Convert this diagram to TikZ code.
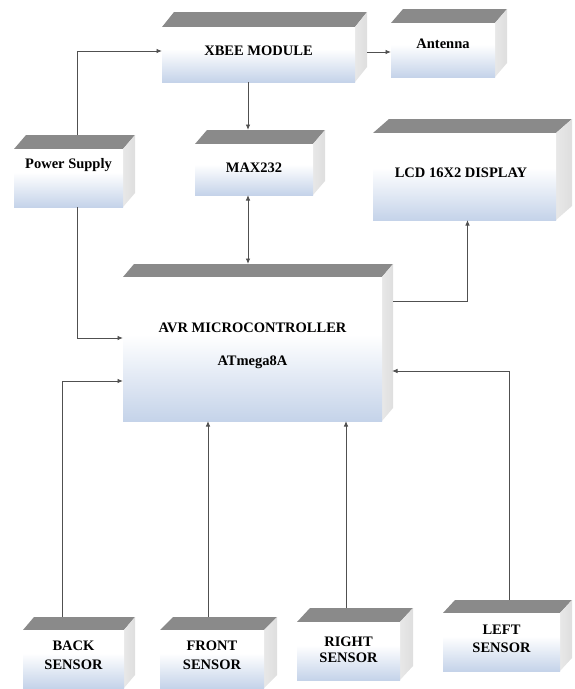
\documentclass[tikz,border=0pt]{standalone}
\usepackage{fontspec}
\setmainfont{Liberation Serif}
\usetikzlibrary{arrows.meta,calc}
\definecolor{faceblue}{RGB}{182,200,228}
\definecolor{topgray}{RGB}{138,138,138}
\definecolor{sidegray}{RGB}{222,222,222}
\definecolor{linegray}{RGB}{80,80,80}
\pgfdeclareverticalshading{boxface}{100bp}{color(0bp)=(faceblue); color(25bp)=(faceblue!80!white); color(55bp)=(white); color(100bp)=(white)}
\tikzset{
  front/.style={rectangle, inner sep=0pt, outer sep=0pt, shading=boxface},
  lbl/.style={inner sep=0pt, align=center, font=\fontsize{14.5}{17}\selectfont\bfseries},
  topface/.style={fill=topgray},
  sideface/.style={left color=sidegray!70!white, right color=sidegray},
  conn/.style={draw=linegray, line width=0.9pt, -{Latex[length=5.5pt,width=4.5pt]}},
  conn2/.style={draw=linegray, line width=0.9pt, {Latex[length=5.5pt,width=4.5pt]}-{Latex[length=5.5pt,width=4.5pt]}}
}
% #1 name, #2 x1, #3 y1, #4 x2, #5 y2, #6 depth x, #7 depth y
\newcommand\cubbox[7]{%
  \fill[topface] (#2,#3) -- (#2+#6,#3-#7) -- (#4+#6,#3-#7) -- (#4,#3) -- cycle;
  \shade[sideface] (#4,#3) -- (#4+#6,#3-#7) -- (#4+#6,#5-#7) -- (#4,#5) -- cycle;
  \node[front, minimum width={#4-#2}, minimum height={#5-#3}] (#1) at ({(#2+#4)/2},{(#3+#5)/2}) {};
}
\begin{document}
\begin{tikzpicture}[x=1pt,y=-1pt]
\useasboundingbox (0,0) rectangle (574,689);
% boxes
\cubbox{xbee}{162}{27}{355}{82}{12}{15}
\cubbox{ant}{391}{23}{495}{77}{12}{14}
\cubbox{ps}{14}{149}{123}{207}{12}{14}
\cubbox{max}{195}{144}{313}{195}{12}{14}
\cubbox{lcd}{373}{133}{556}{220}{16}{14}
\cubbox{avr}{123}{277}{382}{421}{11}{13}
\cubbox{back}{23}{630}{124}{688}{11}{13}
\cubbox{fro}{160}{630}{264}{688}{13}{13}
\cubbox{rig}{297}{622}{400}{680}{13}{14}
\cubbox{lef}{443}{613}{560}{671}{12}{13}
% labels
\node[lbl, anchor=base] (xbee-t) at (258.5,55) {XBEE MODULE};
\node[lbl, anchor=base] (ant-t) at (443,48) {Antenna};
\node[lbl, anchor=base] (ps-t) at (68.5,168) {Power Supply};
\node[lbl, anchor=base] (max-t) at (254,172) {MAX232};
\node[lbl, anchor=base] (lcd-t) at (461,177) {LCD 16X2 DISPLAY};
\node[lbl, anchor=base] (avr-t1) at (252.5,332) {AVR MICROCONTROLLER};
\node[lbl, anchor=base] (avr-t2) at (252.5,365) {ATmega8A};
\node[lbl] (back-t) at (73.5,655) {BACK\\[2pt]SENSOR};
\node[lbl] (fro-t) at (212,655) {FRONT\\[2pt]SENSOR};
\node[lbl] (rig-t) at (348.5,650) {RIGHT\\[-1pt]SENSOR};
\node[lbl] (lef-t) at (501.5,639) {LEFT\\[1pt]SENSOR};
% connector end points on top / side faces
\coordinate (pstop) at ([xshift=8.5pt,yshift=14pt]ps.north);
\coordinate (maxtop) at ([yshift=14pt]max.north);
\coordinate (avrtop) at ([yshift=13pt]avr.north);
\coordinate (backtop) at ([xshift=-11.5pt,yshift=13pt]back.north);
\coordinate (frotop) at ([xshift=-4pt,yshift=13pt]fro.north);
\coordinate (rigtop) at ([xshift=-2.5pt,yshift=14pt]rig.north);
\coordinate (leftop) at ([xshift=7.5pt,yshift=13pt]lef.north);
\coordinate (xbeeside) at ([xshift=12pt,yshift=2.5pt]xbee.east);
\coordinate (avrside) at ([xshift=11pt,yshift=48pt]avr.east);
\coordinate (avrsidein) at ([xshift=10pt,yshift=-22pt]avr.east);
% connectors
\draw[conn] (pstop) |- ([yshift=3.5pt]xbee.west);
\draw[conn] ([xshift=8.5pt]ps.south) |- ([yshift=11pt]avr.west);
\draw[conn] (xbeeside) -- (xbeeside -| ant.west);
\draw[conn] ([xshift=-10.5pt]xbee.south) -- ([xshift=-10.5pt]xbee.south |- maxtop);
\draw[conn2] ([xshift=-6pt]max.south) -- ([xshift=-6pt]max.south |- avrtop);
\draw[conn] (avrside) -| ([xshift=3pt]lcd.south);
\draw[conn] (backtop) |- ([yshift=-32pt]avr.west);
\draw[conn] (frotop) -- (frotop |- avr.south);
\draw[conn] (rigtop) -- (rigtop |- avr.south);
\draw[conn] (leftop) |- (avrsidein);
\end{tikzpicture}
\end{document}
